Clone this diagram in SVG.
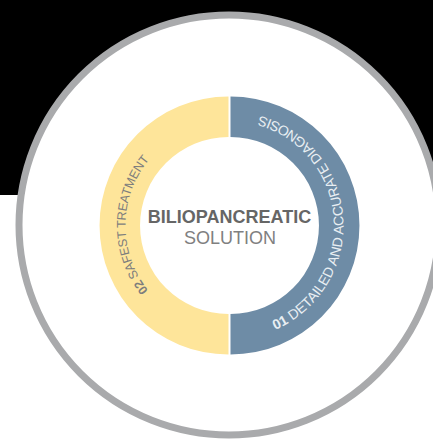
<svg xmlns="http://www.w3.org/2000/svg" width="433" height="440" viewBox="0 0 433 440">
  <defs>
    <style>
      .arcl { font-family: "Liberation Sans", Arial, sans-serif; }
      .ylab { fill: #7d7d7d; font-size: 12.5px; }
      .blab { fill: #e9eff3; font-size: 14px; }
      .num { font-weight: bold; }
    </style>
    <path id="ypath" d="M 229.5 329.5 A 104 104 0 0 1 229.5 121.5"/>
    <path id="bpath" d="M 229.5 339.5 A 114 114 0 0 0 229.5 111.5"/>
  </defs>
  <rect x="0" y="0" width="433" height="440" fill="#ffffff"/>
  <rect x="0" y="0" width="433" height="195" fill="#000000"/>
  <g id="frame">
    <circle cx="229" cy="225" r="210" fill="#ffffff" stroke="#a9aaac" stroke-width="7"/>
  </g>
  <g id="segment-02">
    <path d="M 228.5 96.5 A 129 129 0 0 0 228.5 354.5 L 228.5 314 A 88.5 88.5 0 0 1 228.5 137 Z" fill="#fee59a"/>
    <text class="arcl ylab"><textPath href="#ypath" startOffset="93" textLength="142" lengthAdjust="spacing"><tspan class="num">02</tspan> SAFEST TREATMENT</textPath></text>
  </g>
  <g id="segment-01">
    <path d="M 230.5 96.5 A 129 129 0 0 1 230.5 354.5 L 230.5 314 A 88.5 88.5 0 0 0 230.5 137 Z" fill="#6e8ca6"/>
    <text class="arcl blab"><textPath href="#bpath" startOffset="47" textLength="280" lengthAdjust="spacing"><tspan class="num">01</tspan> DETAILED AND ACCURATE DIAGNOSIS</textPath></text>
  </g>
  <g id="center">
    <text x="229.5" y="223" text-anchor="middle" font-family="Liberation Sans, Arial, sans-serif" font-size="18" font-weight="bold" fill="#666666">BILIOPANCREATIC</text>
    <text x="230" y="244" text-anchor="middle" font-family="Liberation Sans, Arial, sans-serif" font-size="18" fill="#808080">SOLUTION</text>
  </g>
</svg>
